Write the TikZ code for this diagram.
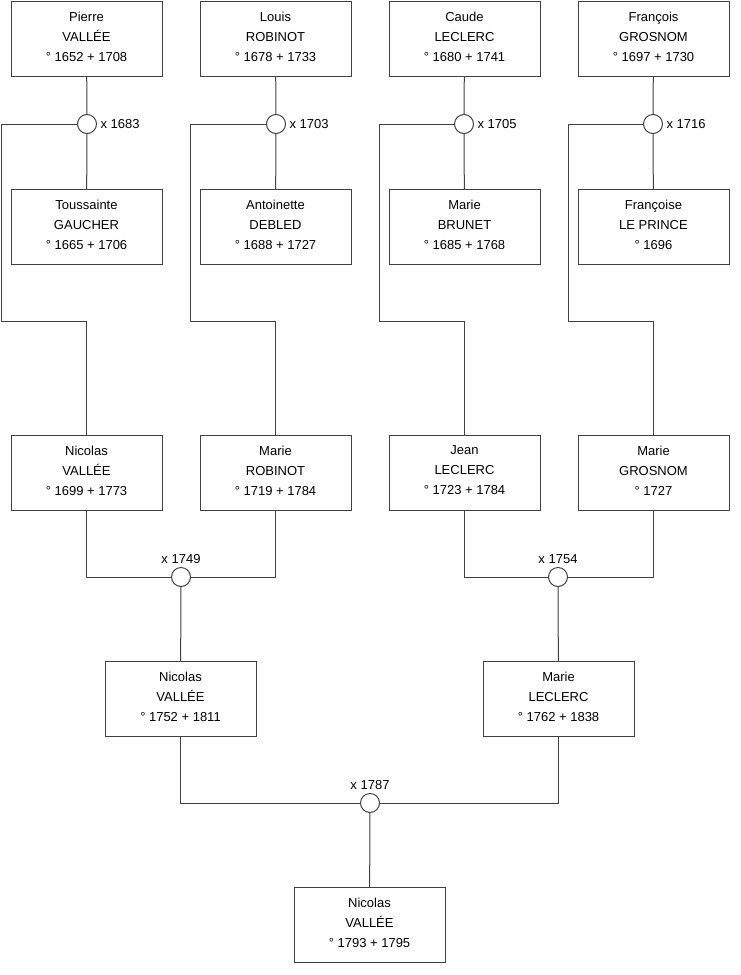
\documentclass[tikz,border=0pt]{standalone}
\usepackage{fontspec}
\setmainfont{Liberation Sans}
\begin{document}
\begin{tikzpicture}[x=1pt,y=-1pt,font=\fontsize{13}{20}\selectfont,
    person/.style={draw=black!75, fill=white, line width=1pt, minimum width=151pt, minimum height=75pt, align=center, inner sep=0pt, text depth=4pt},
    wed/.style={draw=black!75, fill=white, line width=1pt, circle, minimum size=19pt, inner sep=0pt},
    link/.style={draw=black!75, line width=1pt}]
  \useasboundingbox (0,0) rectangle (740,975);

  % grandparents' parents
  \node[person] (pv) at (86.5,38.5) {Pierre\\VALLÉE\\° 1652 + 1708};
  \node[person] (lr) at (275.5,38.5) {Louis\\ROBINOT\\° 1678 + 1733};
  \node[person] (cl) at (464.5,38.5) {Caude\\LECLERC\\° 1680 + 1741};
  \node[person] (fg) at (653.5,38.5) {François\\GROSNOM\\° 1697 + 1730};

  \node[person] (tg) at (86.5,227) {Toussainte\\GAUCHER\\° 1665 + 1706};
  \node[person] (ad) at (275.5,227) {Antoinette\\DEBLED\\° 1688 + 1727};
  \node[person] (mb) at (464.5,227) {Marie\\BRUNET\\° 1685 + 1768};
  \node[person] (fl) at (653.5,227) {Françoise\\LE PRINCE\\° 1696};

  \node[wed, label={right:x 1683}] (m1) at (87,124) {};
  \node[wed, label={right:x 1703}] (m2) at (276,124) {};
  \node[wed, label={right:x 1705}] (m3) at (464,124) {};
  \node[wed, label={right:x 1716}] (m4) at (653,124) {};

  % grandparents
  \node[person] (nv) at (86.5,472.5) {Nicolas\\VALLÉE\\° 1699 + 1773};
  \node[person] (mr) at (275.5,472.5) {Marie\\ROBINOT\\° 1719 + 1784};
  \node[person] (jl) at (464.5,472.5) {Jean\\LECLERC\\° 1723 + 1784};
  \node[person] (mg) at (653.5,472.5) {Marie\\GROSNOM\\° 1727};

  \node[wed, label={above:x 1749}] (m5) at (181,577) {};
  \node[wed, label={above:x 1754}] (m6) at (558,577) {};

  % parents
  \node[person] (nv2) at (180.5,699) {Nicolas\\VALLÉE\\° 1752 + 1811};
  \node[person] (ml) at (558.5,699) {Marie\\LECLERC\\° 1762 + 1838};

  \node[wed, label={above:x 1787}] (m7) at (370,803) {};

  \node[person] (nv3) at (369.5,925) {Nicolas\\VALLÉE\\° 1793 + 1795};

  \coordinate (k1) at (1,321);
  \coordinate (k2) at (190,321);
  \coordinate (k3) at (379,321);
  \coordinate (k4) at (568,321);

  % links
  \draw[link] (pv) -- (m1) -- (tg);
  \draw[link] (lr) -- (m2) -- (ad);
  \draw[link] (cl) -- (m3) -- (mb);
  \draw[link] (fg) -- (m4) -- (fl);
  \draw[link] (m1) -| (k1) -| (nv);
  \draw[link] (m2) -| (k2) -| (mr);
  \draw[link] (m3) -| (k3) -| (jl);
  \draw[link] (m4) -| (k4) -| (mg);
  \draw[link] (nv) |- (m5);
  \draw[link] (mr) |- (m5);
  \draw[link] (m5) -- (nv2);
  \draw[link] (jl) |- (m6);
  \draw[link] (mg) |- (m6);
  \draw[link] (m6) -- (ml);
  \draw[link] (nv2) |- (m7);
  \draw[link] (ml) |- (m7);
  \draw[link] (m7) -- (nv3);
\end{tikzpicture}
\end{document}
